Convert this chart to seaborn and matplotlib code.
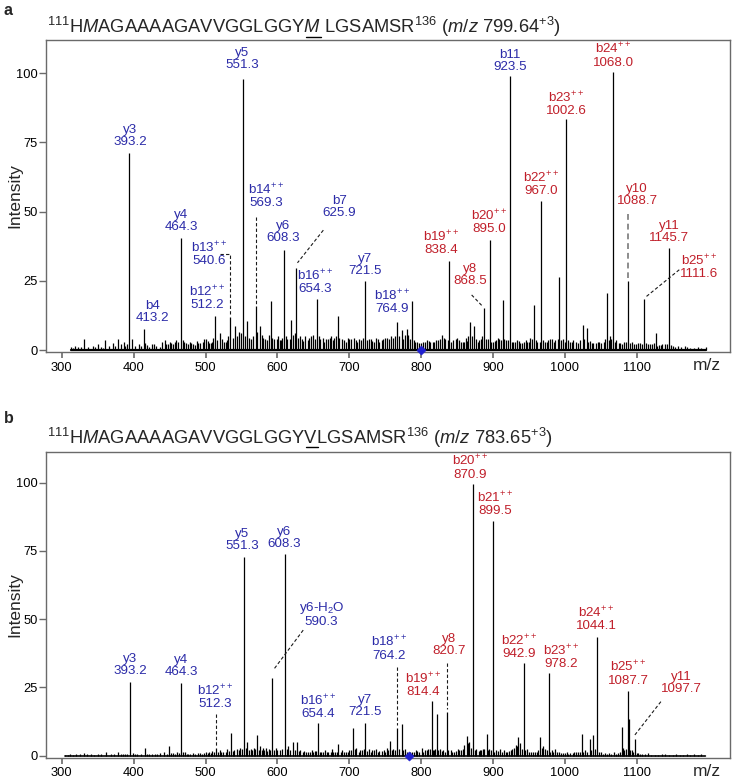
import numpy as np
import pandas as pd
import matplotlib
matplotlib.use("Agg")
import matplotlib.pyplot as plt
import seaborn as sns
from matplotlib.lines import Line2D

# ---------------- spectrum a : precursor m/z 799.64 (+3) ----------------
mz_a = [312.5, 318, 323, 330.5, 336, 343, 350, 355, 360.5, 366, 371, 378.5, 383, 388,
        393.8, 397, 402, 407, 413.8, 419, 425, 431, 440, 445, 450, 455, 459,
        465.8, 470, 475, 480, 485, 490, 496, 500, 505, 509, 513.6, 520.5, 526,
        530, 534.5, 541.5, 546.5, 552.6, 557.7, 563, 569.8, 575.5, 580, 585,
        591.2, 596, 601, 605, 609.2, 614, 619.5, 626.5, 631, 636, 642, 647, 650,
        655.4, 660, 665, 670, 675, 679, 683.8, 690, 695, 700, 706, 711, 716,
        722.3, 727, 732, 737, 742, 747, 752, 758, 766.2, 770, 773.5, 778, 780.5,
        784, 787.2, 792, 797, 803, 808, 813, 818, 823, 829, 834, 839.2, 845,
        850, 855, 860, 864, 868.2, 874.2, 879, 883, 887.6, 891, 895.6, 900, 905,
        909, 913.8, 918, 923.5, 928, 933, 938, 943, 948, 952, 957.2, 962, 967.2,
        972, 977, 982, 987, 992.4, 997, 1002.3, 1007, 1012, 1018, 1024.9, 1030.4,
        1035, 1040, 1046, 1051, 1058.2, 1063, 1067.6, 1072, 1077, 1082, 1088.4,
        1093, 1099, 1105, 1110.6, 1116, 1121, 1126.4, 1131, 1136, 1140, 1145.2,
        1150, 1158, 1167, 1175, 1185, 1197]
int_a = [1.0, 1.5, 1.2, 3.8, 1.0, 1.6, 2.0, 1.2, 3.6, 1.4, 2.5, 4.0, 2.2, 1.5,
         71.0, 4.0, 1.5, 2.0, 7.5, 1.8, 2.2, 1.5, 3.0, 2.3, 2.8, 2.0, 3.5,
         40.5, 3.0, 2.2, 2.5, 1.8, 2.6, 3.0, 3.8, 2.5, 3.0, 12.3, 6.0, 2.8,
         3.5, 12.0, 8.5, 6.5, 98.0, 10.5, 4.0, 16.0, 8.5, 4.5, 3.5,
         17.8, 4.0, 5.0, 3.5, 36.3, 4.0, 10.8, 29.8, 5.0, 3.2, 3.5, 5.2, 5.5,
         18.5, 4.0, 3.0, 3.8, 5.0, 4.2, 12.4, 4.0, 3.0, 3.8, 4.5, 3.0, 3.5,
         24.8, 4.0, 3.2, 4.2, 3.0, 3.8, 4.2, 5.0, 10.2, 5.0, 7.2, 5.5, 7.6,
         4.0, 17.8, 3.0, 2.5, 2.8, 3.5, 2.8, 3.0, 3.5, 5.5, 3.8, 32.0, 3.5,
         4.5, 3.0, 2.8, 3.2, 10.2, 8.5, 3.0, 4.0, 15.0, 4.0, 39.7, 3.0, 3.5,
         4.0, 18.0, 3.5, 98.9, 3.0, 3.5, 2.5, 3.0, 2.8, 4.5, 16.2, 3.0, 53.8,
         3.0, 3.5, 4.0, 3.5, 26.5, 4.0, 83.3, 3.0, 3.5, 2.5, 9.0, 7.8,
         3.2, 2.5, 3.0, 2.5, 20.5, 5.0, 100.5, 3.5, 2.5, 3.0, 24.8,
         3.0, 2.2, 2.5, 18.5, 2.2, 2.0, 6.0, 1.8, 2.0, 2.2, 36.7,
         1.5, 1.5, 1.5, 0.8, 1.0, 1.0]
# low-level chemical noise between the peaks
noise_mz_a = [315, 327, 346, 358, 374, 386, 391, 410, 416, 422, 428, 436, 443, 448, 452,
              457, 462, 468, 473, 478, 483, 488, 493, 498, 503, 507, 511, 516, 523, 528,
              532, 538, 544, 550, 555, 560, 566, 572, 578, 583, 588, 593, 599, 603, 607,
              612, 617, 622, 624, 629, 634, 639, 644, 652, 658, 663, 668, 673, 677, 681,
              686, 693, 698, 703, 709, 713, 719, 725, 730, 735, 740, 745, 750, 755, 761,
              764, 775, 782, 790, 795, 800, 806, 811, 816, 821, 826, 832, 837, 842, 848,
              853, 858, 862, 866, 871, 877, 881, 885, 893, 898, 903, 907, 911, 916, 921,
              926, 931, 936, 941, 946, 950, 955, 960, 965, 970, 975, 980, 985, 990, 995,
              1000, 1005, 1010, 1015, 1021, 1027, 1033, 1038, 1043, 1048, 1054, 1056,
              1061, 1065, 1070, 1075, 1080, 1085, 1091, 1096, 1102, 1108, 1113, 1118,
              1124, 1129, 1134, 1143, 1148, 1154, 1162, 1170, 1180, 1190]
noise_int_a = [0.8, 1.0, 1.2, 0.9, 1.5, 2.8, 2.0, 1.6, 2.5, 1.2, 2.0, 1.2, 3.5, 2.0, 2.5,
               3.0, 2.8, 3.5, 2.5, 3.0, 2.0, 3.2, 2.5, 4.0, 3.2, 2.5, 4.5, 3.5, 4.0, 3.0,
               5.0, 4.5, 5.0, 6.0, 5.0, 4.5, 5.0, 6.5, 5.5, 4.0, 5.5, 4.5, 4.0, 3.5, 4.5,
               5.0, 4.0, 5.5, 6.0, 4.5, 4.0, 5.0, 4.5, 4.0, 5.0, 4.5, 4.0, 4.5, 3.5, 5.0,
               4.5, 3.5, 4.5, 4.0, 3.5, 4.0, 4.5, 3.5, 4.0, 3.0, 4.0, 3.5, 4.5, 4.0, 4.5,
               5.0, 4.0, 5.5, 3.5, 3.0, 2.5, 3.0, 3.2, 2.8, 3.5, 4.0, 4.2, 3.5, 3.0, 4.0,
               3.5, 3.0, 4.5, 5.0, 5.0, 4.0, 3.5, 5.0, 4.0, 3.0, 3.2, 4.5, 3.5, 4.0, 3.5,
               3.0, 2.8, 3.2, 2.5, 3.5, 3.0, 4.0, 3.5, 3.0, 3.5, 3.0, 3.8, 3.0, 4.0, 3.5,
               3.0, 3.5, 2.8, 3.0, 3.5, 4.0, 3.0, 2.5, 2.5, 2.8, 3.0, 4.0,
               3.5, 4.0, 3.0, 2.5, 2.0, 3.0, 2.5, 2.0, 2.5, 2.0, 2.5, 2.0,
               2.5, 1.5, 1.8, 2.0, 1.8, 1.0, 1.2, 1.0, 0.8, 0.7]

# ---------------- spectrum b : precursor m/z 783.65 (+3) ----------------
mz_b = [305, 312, 320, 331, 340, 350, 361, 368, 377.6, 382, 388, 394.7, 399, 405,
        415.6, 422, 430, 437, 442, 448.6, 455, 460, 466, 471, 476, 482, 489, 495,
        500, 505, 509, 514.6, 520, 525, 530, 535.5, 540, 544, 548, 554, 558, 563,
        567, 571.2, 576, 580, 584, 588, 592.1, 598, 603, 610.3, 615, 621.4, 627,
        632, 637, 642, 647.9, 652, 656.2, 661, 666, 671, 676, 680, 685, 690, 695,
        700, 705, 710, 715, 722.6, 727, 732, 737, 742, 748, 752, 756.9, 761,
        766.2, 773.1, 778, 788, 793, 797, 800.9, 806, 810, 814.8, 818, 821.8,
        826, 831, 835.7, 841, 846, 851, 856, 860, 863.5, 867, 872.8, 877, 882,
        886, 891.3, 895, 899.7, 904, 909.9, 915, 920, 925, 929, 932, 935.4, 938,
        943.6, 948, 953, 958, 963, 966, 970, 973, 978.5, 982, 986.4, 992, 997,
        1003, 1008, 1013, 1018, 1023.5, 1028, 1035, 1039.7, 1045.3, 1050, 1056,
        1062, 1068, 1074, 1079, 1083, 1087.4, 1089.6, 1093, 1097.6, 1102, 1108,
        1116, 1125, 1135, 1145, 1155, 1165, 1180, 1195]
int_b = [0.4, 0.5, 0.6, 0.9, 0.5, 0.8, 1.5, 0.6, 1.2, 0.8, 0.5, 27.1, 1.0, 0.7,
         2.8, 0.8, 0.6, 0.9, 1.2, 3.5, 1.0, 1.5, 26.5, 1.5, 0.8, 1.0, 1.0, 0.8,
         1.2, 1.5, 1.8, 3.0, 2.0, 1.5, 2.5, 8.2, 2.0, 2.4, 3.0, 72.9, 5.0, 2.5,
         2.8, 7.6, 3.5, 2.8, 3.0, 2.5, 28.4, 3.0, 2.0, 73.8, 3.5, 5.2, 4.9,
         2.0, 1.8, 1.5, 2.0, 1.8, 11.8, 1.5, 2.0, 1.5, 2.5, 1.5, 4.3, 2.0, 1.5,
         2.0, 10.1, 3.0, 2.0, 11.8, 2.5, 2.0, 2.5, 1.8, 2.2, 3.0, 5.5, 2.5,
         10.1, 11.6, 2.5, 1.5, 2.0, 1.5, 3.0, 2.0, 2.5, 19.9, 2.0, 15.3,
         2.5, 2.0, 16.1, 2.0, 1.5, 2.5, 2.0, 4.0, 7.3, 5.0, 99.4, 2.5, 2.0,
         2.5, 7.9, 2.5, 86.0, 2.0, 2.5, 2.0, 1.5, 2.0, 3.0, 4.0, 6.7, 4.5,
         33.8, 2.5, 1.5, 1.5, 2.0, 6.7, 3.5, 2.5, 30.2, 2.0, 2.5, 1.5, 1.0,
         1.2, 1.0, 1.2, 1.5, 7.9, 2.0, 6.1, 7.7, 43.6, 1.5, 1.0,
         1.0, 1.2, 1.0, 10.6, 2.0, 23.7, 13.5, 2.0, 6.1, 1.0, 0.5,
         1.0, 0.4, 0.5, 0.4, 0.5, 0.4, 0.5, 0.4]
noise_mz_b = [308, 316, 325, 335, 345, 355, 372, 385, 391, 402, 410, 419, 426, 433, 446,
              452, 458, 463, 469, 474, 479, 486, 492, 498, 503, 507, 512, 517, 522, 528,
              533, 538, 546, 551, 556, 561, 565, 569, 574, 578, 582, 586, 590, 595, 600,
              606, 613, 618, 624, 630, 635, 640, 645, 650, 654, 659, 664, 669, 674, 678,
              683, 688, 693, 698, 703, 708, 713, 718, 720, 725, 730, 735, 740, 745, 750,
              754, 759, 764, 770, 775, 781, 785, 790, 795, 803, 808, 812, 816, 820, 824,
              829, 833, 838, 843, 848, 853, 858, 865, 869, 875, 880, 884, 888, 893, 897,
              902, 907, 912, 918, 923, 927, 934, 940, 945, 950, 956, 961, 968, 975, 980,
              984, 989, 995, 1000, 1005, 1011, 1016, 1021, 1026, 1031, 1037, 1042, 1048,
              1053, 1059, 1065, 1071, 1077, 1081, 1085, 1091, 1095, 1100, 1105, 1112,
              1120, 1130, 1140, 1150, 1160, 1170, 1175, 1185, 1190]
noise_int_b = [0.3, 0.4, 0.5, 0.5, 0.4, 0.6, 0.7, 0.6, 0.8, 0.6, 0.5, 0.7, 0.5, 0.6, 0.8,
               0.9, 0.8, 1.0, 1.2, 0.8, 0.7, 0.8, 0.9, 1.0, 1.1, 1.0, 1.5, 1.3, 1.2, 1.5,
               1.8, 1.6, 2.0, 2.5, 3.0, 2.0, 2.2, 2.5, 2.0, 2.2, 2.0, 1.8, 2.0, 2.2, 2.0,
               2.5, 2.5, 2.0, 2.2, 1.8, 1.5, 1.5, 1.2, 1.5, 1.8, 1.5, 1.2, 1.5, 1.2, 1.5,
               1.2, 1.5, 1.2, 1.5, 2.0, 2.5, 1.5, 2.0, 2.5, 1.8, 1.5, 2.0, 1.5, 1.8, 1.5,
               2.0, 2.0, 2.2, 2.5, 2.0, 1.5, 1.2, 1.5, 1.8, 1.5, 2.0, 2.5, 2.0, 2.5, 2.0,
               1.8, 1.5, 2.0, 1.5, 1.8, 2.0, 2.5, 4.5, 3.0, 2.0, 1.8, 2.0, 2.5, 2.0, 2.0,
               1.5, 1.8, 1.5, 1.5, 1.8, 2.5, 3.5, 2.5, 2.0, 1.5, 1.2, 1.5, 3.0, 2.0, 1.5,
               1.5, 1.2, 1.0, 1.0, 0.8, 1.0, 1.2, 1.5, 1.5, 1.2, 2.0, 2.5, 1.2,
               0.8, 0.8, 0.8, 0.8, 1.5, 3.0, 2.5, 2.0, 1.5, 1.0, 0.6, 0.5,
               0.4, 0.4, 0.5, 0.4, 0.4, 0.5, 0.4, 0.4, 0.5]

precursor_a = 799.64
precursor_b = 783.65

# ---------------- annotated fragment ions ----------------
ion_a = ["y3", "b4", "y4", "b12$^{++}$", "b13$^{++}$", "y5", "b14$^{++}$", "y6", "b7",
         "b16$^{++}$", "y7", "b18$^{++}$", "b19$^{++}$", "y8", "b20$^{++}$", "b11",
         "b22$^{++}$", "b23$^{++}$", "b24$^{++}$", "y10", "b25$^{++}$", "y11"]
ion_a_mz = ["393.2", "413.2", "464.3", "512.2", "540.6", "551.3", "569.3", "608.3", "625.9",
            "654.3", "721.5", "764.9", "838.4", "868.5", "895.0", "923.5",
            "967.0", "1002.6", "1068.0", "1088.7", "1111.6", "1145.7"]

ion_b = ["y3", "y4", "b12$^{++}$", "y5", "y6", "y6-H$_2$O", "b16$^{++}$", "y7",
         "b18$^{++}$", "b19$^{++}$", "y8", "b20$^{++}$", "b21$^{++}$", "b22$^{++}$",
         "b23$^{++}$", "b24$^{++}$", "b25$^{++}$", "y11"]
ion_b_mz = ["393.2", "464.3", "512.3", "551.3", "608.3", "590.3", "654.4", "721.5",
            "764.2", "814.4", "820.7", "870.9", "899.5", "942.9",
            "978.2", "1044.1", "1087.7", "1097.7"]

title_a = ("$^{111}$H$\\mathit{M}$AGAAAAGAVVGGLGGY$\\mathit{M}$ LGSAMSR$^{136}$ "
           "($\\mathit{m/z}$ 799.64$^{+3}$)")
title_b = ("$^{111}$H$\\mathit{M}$AGAAAAGAVVGGLGGYVLGSAMSR$^{136}$ "
           "($\\mathit{m/z}$ 783.65$^{+3}$)")
title_prefix = "$^{111}$H$\\mathit{M}$AGAAAAGAVVGGLGGY"
site_a = "$\\mathit{M}$"
site_b = "V"

# ---------------- label placement (x, bottom y, colour, connector) ----------------
BLUE = "#2b2ba8"
RED = "#c01f2a"
layout_a = [
    (395, 72.9, BLUE, None),
    (426.6, 9.4, BLUE, None),
    (466, 42.1, BLUE, None),
    (502.6, 14.0, BLUE, None),
    (505.3, 29.9, BLUE, ([520, 534.5, 534.5], [34.7, 34.7, 12.6], "k")),
    (551.3, 100.7, BLUE, None),
    (585, 50.8, BLUE, ([569.8, 569.8], [48.1, 16.6], "k")),
    (608.3, 38.2, BLUE, None),
    (686.2, 47.5, BLUE, ([664, 628], [43.3, 31.5], "k")),
    (652.4, 19.9, BLUE, None),
    (722, 26.5, BLUE, None),
    (760, 12.6, BLUE, None),
    (828.7, 34.0, RED, None),
    (868, 22.9, RED, ([870.4, 885.2], [19.9, 15.9], "k")),
    (895, 41.5, RED, None),
    (923.5, 100.1, BLUE, None),
    (967, 55.3, RED, None),
    (1002.6, 84.2, RED, None),
    (1068.0, 101.7, RED, None),
    (1100.8, 51.7, RED, ([1088.4, 1088.4], [49.3, 26.0], "0.55")),
    (1187, 25.3, RED, ([1159.4, 1113], [29.0, 19.2], "k")),
    (1145.7, 38.2, RED, None),
]
layout_b = [
    (395, 28.9, BLUE, None),
    (466, 28.3, BLUE, None),
    (513.3, 16.7, BLUE, ([514.6, 514.6], [15.4, 3.4], "k")),
    (551.3, 74.5, BLUE, None),
    (609.3, 75.3, BLUE, None),
    (661.7, 46.7, BLUE, ([636, 594.4], [46.0, 31.4], "k")),
    (656.2, 13.1, BLUE, None),
    (722, 13.7, BLUE, None),
    (755.4, 34.4, BLUE, ([766.2, 766.2], [32.4, 11.2], "k")),
    (803.2, 21.0, RED, None),
    (838.9, 36.0, RED, ([835.7, 835.7], [33.8, 17.0], "k")),
    (868.1, 100.7, RED, None),
    (903.9, 87.3, RED, None),
    (936.7, 35.1, RED, None),
    (994.7, 31.4, RED, None),
    (1044.3, 45.2, RED, None),
    (1088.3, 25.3, RED, None),
    (1162.6, 22.2, RED, ([1133.8, 1097.6], [19.8, 7.6], "k")),
]

# ---------------- style ----------------
sns.set_theme(style="ticks")
plt.rcParams["font.family"] = ["Liberation Sans", "DejaVu Sans"]
plt.rcParams["mathtext.fontset"] = "custom"
plt.rcParams["mathtext.rm"] = "Liberation Sans"
plt.rcParams["mathtext.it"] = "Liberation Sans:italic"
plt.rcParams["mathtext.bf"] = "Liberation Sans:bold"

W, H = 733, 780
fig = plt.figure(figsize=(W / 100, H / 100), dpi=100)

SPINE = "#6a6a6a"


def draw_panel(top, bottom, ylim, mz, inten, nmz, nint, precursor, ions, ion_mz,
               layout, base_lw):
    ax = fig.add_axes([46 / W, 1 - bottom / H, (730 - 46) / W, (bottom - top) / H])
    spec = pd.concat([pd.DataFrame({"mz": mz, "intensity": inten}),
                      pd.DataFrame({"mz": nmz, "intensity": nint})]).sort_values("mz")
    ax.vlines(spec["mz"], 0, spec["intensity"], color="black", lw=0.9, zorder=2)
    sns.lineplot(x=[spec["mz"].min(), spec["mz"].max()], y=[0, 0], ax=ax,
                 color="black", lw=base_lw, zorder=2)
    sns.scatterplot(x=[precursor], y=[0], ax=ax, marker="D", s=22, color="#1f1fd0",
                    edgecolor="#1f1fd0", zorder=5, clip_on=False)
    for name, val, (lx, ly, col, conn) in zip(ions, ion_mz, layout):
        ax.text(lx, ly, name + "\n" + val, ha="center", va="bottom", color=col,
                fontsize=9.6, linespacing=1.0, zorder=4)
        if conn is not None:
            xs, ys, lc = conn
            lw = 1.4 if lc != "k" else 0.8
            ax.plot(xs, ys, color=lc, lw=lw, ls=(0, (3, 2)), zorder=3)
    ax.set_xlim(278, 1230)
    ax.set_ylim(*ylim)
    ax.set_xticks(range(300, 1101, 100))
    ax.set_yticks([0, 25, 50, 75, 100])
    ax.tick_params(axis="x", direction="out", length=4.5, width=1.2, colors=SPINE,
                   labelcolor="black", labelsize=9.3, pad=2.5)
    ax.tick_params(axis="y", direction="out", length=5, width=1.0, colors=SPINE,
                   labelcolor="black", labelsize=9.3, pad=1)
    for s in ax.spines.values():
        s.set_color(SPINE)
        s.set_linewidth(1.0)
    ax.set_ylabel("Intensity", fontsize=12.5)
    ax.yaxis.set_label_coords(-0.034, 0.5)
    ax.set_xlabel("")
    ax.grid(False)
    return ax


ax_a = draw_panel(40, 352, (-0.72, 112.0), mz_a, int_a, noise_mz_a, noise_int_a,
                  precursor_a, ion_a, ion_a_mz, layout_a, 1.6)
ax_b = draw_panel(451.7, 757.5, (-0.66, 111.35), mz_b, int_b, noise_mz_b, noise_int_b,
                  precursor_b, ion_b, ion_b_mz, layout_b, 1.2)

# x-axis label at right end
fig.text(707 / W, 1 - 365 / H, "m/z", fontsize=12.5, ha="center", va="center")
fig.text(707 / W, 1 - 771 / H, "m/z", fontsize=12.5, ha="center", va="center")

# panel letters
fig.text(4 / W, 1 - 3 / H, "a", fontsize=11.5, fontweight="bold", ha="left", va="top")
fig.text(4 / W, 1 - 411 / H, "b", fontsize=11.5, fontweight="bold", ha="left", va="top")

# sequence titles with the modified residue underlined
renderer = fig.canvas.get_renderer()


def seq_title(x_px, base_px, text, site):
    fs = 13.2
    fig.text(x_px / W, 1 - base_px / H, text, fontsize=fs, ha="left", va="baseline")
    t1 = fig.text(x_px / W, 1 - base_px / H, title_prefix, fontsize=fs, va="baseline")
    t2 = fig.text(x_px / W, 1 - base_px / H, title_prefix + site, fontsize=fs, va="baseline")
    x0 = t1.get_window_extent(renderer).x1
    x1 = t2.get_window_extent(renderer).x1
    t1.remove()
    t2.remove()
    yline = 1 - (base_px + 3.3) / H
    fig.add_artist(Line2D([x0 / W, x1 / W], [yline, yline], color="black", lw=1.0,
                          transform=fig.transFigure))


seq_title(47, 33.3, title_a, site_a)
seq_title(47, 443.5, title_b, site_b)

fig.savefig("out.png", dpi=100)
